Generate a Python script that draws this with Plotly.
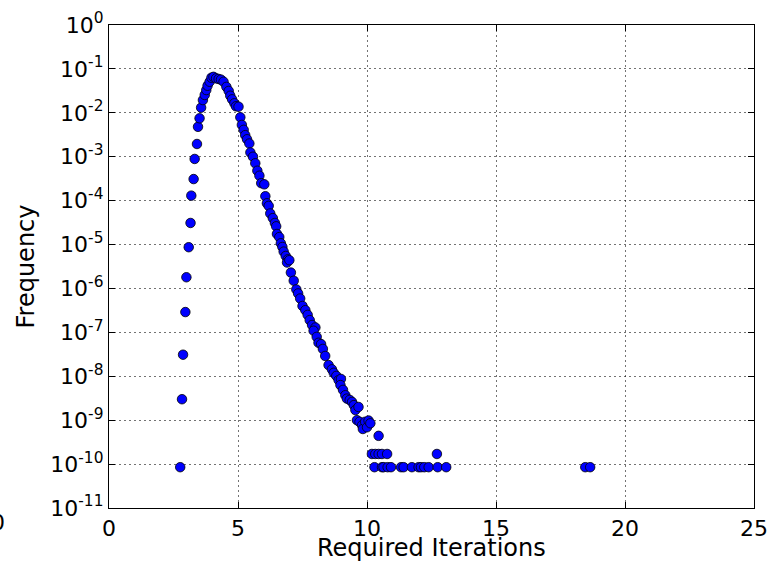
import plotly.graph_objects as go

iterations = [
    2.76, 2.83, 2.87, 2.96, 3.00, 3.09, 3.16, 3.19, 3.28, 3.32,
    3.41, 3.45, 3.51, 3.57, 3.64, 3.71, 3.77, 3.82, 3.90, 3.97,
    4.05, 4.15, 4.25, 4.34, 4.44, 4.55, 4.64, 4.70, 4.77, 4.86,
    4.92, 5.02, 5.09, 5.15, 5.22, 5.28, 5.35, 5.44, 5.48, 5.58,
    5.67, 5.75, 5.83, 5.90, 6.02, 6.06, 6.12, 6.19, 6.25, 6.35,
    6.43, 6.48, 6.51, 6.60, 6.66, 6.72, 6.77, 6.85, 6.93, 6.90,
    6.99, 7.05, 7.16, 7.26, 7.33, 7.41, 7.50, 7.61, 7.70, 7.78,
    7.87, 8.00, 7.93, 8.05, 8.12, 8.22, 8.29, 8.38, 8.51, 8.64,
    8.71, 8.81, 8.90, 8.99, 8.97, 9.07, 9.16, 9.22, 9.33, 9.42,
    9.49, 9.55, 9.67, 9.61, 9.71, 9.81, 9.84, 9.93, 10.00, 10.06,
    10.13, 10.45,
    10.19, 10.32, 10.45, 10.58, 10.78, 12.71,
    10.29, 10.58, 10.64, 10.80, 10.93, 11.32, 11.42, 11.74, 12.00, 12.09,
    12.22, 12.39, 12.74, 13.07, 18.46, 18.65,
]
frequency = [
    8.5e-11, 3.0e-9, 3.1e-8, 2.9e-7, 1.8e-6, 8.7e-6, 3.1e-5, 1.3e-4, 3.1e-4, 8.9e-4,
    1.95e-3, 4.8e-3, 7.5e-3, 0.0131, 0.0195, 0.0255, 0.033, 0.0414, 0.051, 0.063,
    0.066, 0.061, 0.059, 0.057, 0.051, 0.039, 0.0315, 0.0245, 0.0203, 0.0165,
    0.0141, 0.0138, 7.9e-3, 5.3e-3, 4.1e-3, 3.1e-3, 2.5e-3, 2.0e-3, 1.25e-3, 1.0e-3,
    7.1e-4, 4.8e-4, 3.7e-4, 2.5e-4, 2.35e-4, 1.26e-4, 8.7e-5, 7.6e-5, 5.1e-5, 4.0e-5,
    3.1e-5, 2.6e-5, 1.74e-5, 1.48e-5, 1.07e-5, 8.8e-6, 6.9e-6, 5.5e-6, 4.6e-6, 3.9e-6,
    4.4e-6, 2.3e-6, 1.5e-6, 9.5e-7, 7.7e-7, 5.9e-7, 4.0e-7, 3.2e-7, 2.5e-7, 1.9e-7,
    1.47e-7, 1.29e-7, 1.09e-7, 7.9e-8, 5.8e-8, 5.4e-8, 4.2e-8, 2.9e-8, 1.8e-8, 1.44e-8,
    1.2e-8, 1.02e-8, 8.2e-9, 8.7e-9, 6.3e-9, 4.9e-9, 3.7e-9, 3.1e-9, 2.9e-9, 2.6e-9,
    2.2e-9, 1.7e-9, 2.0e-9, 1.0e-9, 9.2e-10, 7.7e-10, 6.3e-10, 9.2e-10, 6.9e-10, 9.8e-10,
    8.5e-10, 4.4e-10,
    1.7e-10, 1.7e-10, 1.7e-10, 1.7e-10, 1.7e-10, 1.7e-10,
    8.5e-11, 8.5e-11, 8.5e-11, 8.5e-11, 8.5e-11, 8.5e-11, 8.5e-11, 8.5e-11, 8.5e-11, 8.5e-11,
    8.5e-11, 8.5e-11, 8.5e-11, 8.5e-11, 8.5e-11, 8.5e-11,
]

x_ticks = [0, 5, 10, 15, 20, 25]
y_ticks = [1, 1e-1, 1e-2, 1e-3, 1e-4, 1e-5, 1e-6, 1e-7, 1e-8, 1e-9, 1e-10, 1e-11]
y_ticktext = ["10<sup>0</sup>"] + ["10<sup>-%d</sup>" % k for k in range(1, 12)]

FONT = "DejaVu Sans"
TICK_SIZE = 22
TITLE_SIZE = 24

fig = go.Figure()
fig.add_trace(go.Scatter(
    x=iterations, y=frequency, mode="markers",
    marker=dict(size=9.5, color="#0000ff", line=dict(color="#000000", width=0.8)),
    showlegend=False,
))

axis_common = dict(
    showline=True, linecolor="black", linewidth=1.3, mirror="ticks",
    ticks="inside", ticklen=6, tickcolor="black", tickwidth=1,
    showgrid=True, gridcolor="rgba(0,0,0,0.55)", gridwidth=1, griddash="2px,3px",
    zeroline=False, automargin=False,
    tickfont=dict(family=FONT, size=TICK_SIZE, color="black"),
)

fig.update_xaxes(
    range=[0, 25], tickvals=x_ticks, ticktext=[str(v) for v in x_ticks],
    **axis_common,
)
fig.update_yaxes(
    type="log", range=[-11, 0], tickvals=y_ticks, ticktext=y_ticktext,
    title=dict(text="Frequency", font=dict(family=FONT, size=TITLE_SIZE, color="black"), standoff=8),
    **axis_common,
)

# x-axis title placed as an annotation for exact vertical placement
fig.add_annotation(
    text="Required Iterations", xref="paper", yref="paper", x=0.5, y=-0.083,
    xanchor="center", yanchor="middle", showarrow=False,
    font=dict(family=FONT, size=TITLE_SIZE, color="black"),
)

# clipped stray label at the far left edge of the reference
fig.add_annotation(
    text="0", xref="paper", yref="paper", x=-0.172, y=0.0,
    xanchor="center", yanchor="top", showarrow=False,
    font=dict(family=FONT, size=TICK_SIZE, color="black"),
)

fig.update_layout(
    width=768, height=562,
    margin=dict(l=109, r=14, t=25, b=54, autoexpand=False),
    paper_bgcolor="white", plot_bgcolor="white",
    font=dict(family=FONT, color="black"),
)

fig.write_html("out.html")
